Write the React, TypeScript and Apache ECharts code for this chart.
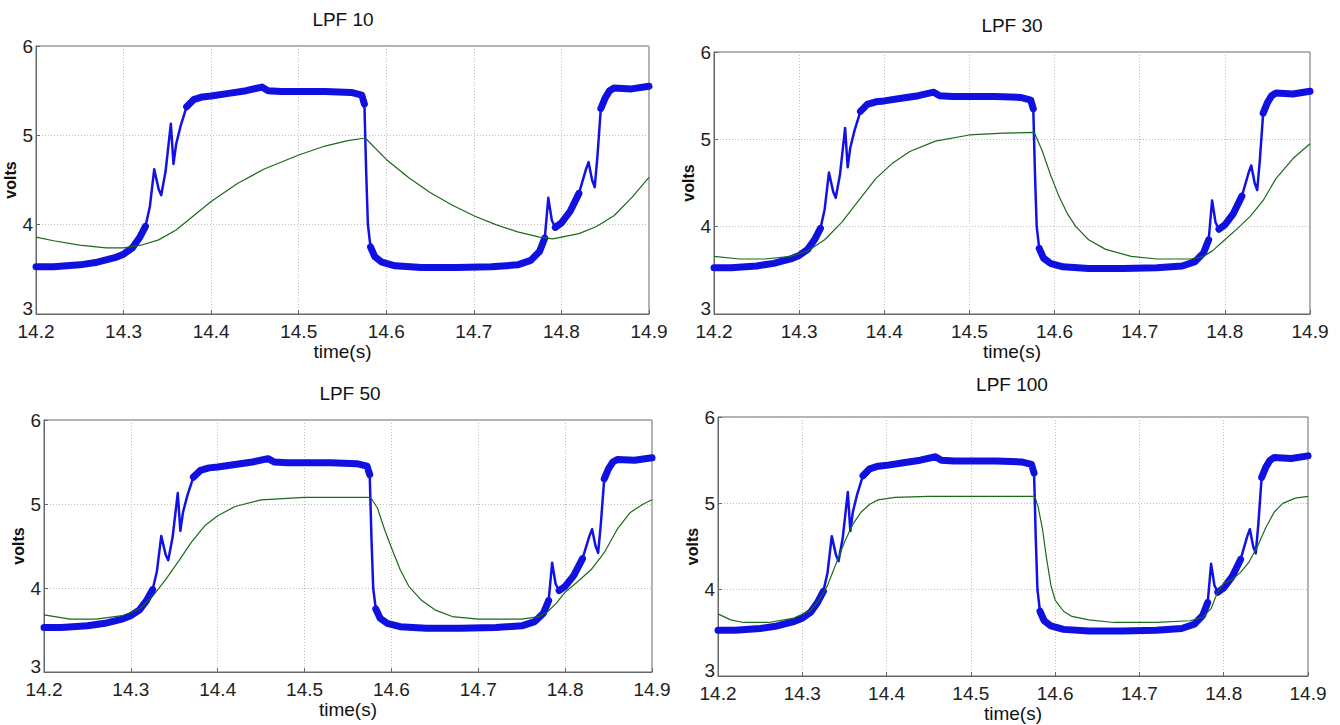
import React, { useEffect, useRef } from "react";
import * as echarts from "echarts";

// ---- Data ----
const xTicks = [14.2, 14.3, 14.4, 14.5, 14.6, 14.7, 14.8, 14.9];
const yTicks = [3, 4, 5, 6];
const titles = ["LPF 10", "LPF 30", "LPF 50", "LPF 100"];

// measured (unfiltered) voltage, blue
const blueT = [14.2, 14.22, 14.25, 14.27, 14.29, 14.3, 14.31, 14.318, 14.325, 14.33, 14.335, 14.34, 14.343, 14.348, 14.354, 14.357, 14.36, 14.365, 14.372, 14.38, 14.39, 14.4, 14.42, 14.44, 14.458, 14.465, 14.48, 14.5, 14.53, 14.56, 14.572, 14.575, 14.577, 14.579, 14.582, 14.587, 14.595, 14.61, 14.64, 14.68, 14.72, 14.75, 14.765, 14.775, 14.781, 14.785, 14.789, 14.793, 14.8, 14.81, 14.82, 14.828, 14.831, 14.835, 14.838, 14.841, 14.845, 14.85, 14.855, 14.86, 14.88, 14.9];
const blueV = [3.53, 3.53, 3.55, 3.58, 3.63, 3.67, 3.74, 3.85, 3.98, 4.2, 4.62, 4.4, 4.33, 4.6, 5.13, 4.68, 4.9, 5.1, 5.32, 5.4, 5.43, 5.44, 5.47, 5.5, 5.54, 5.5, 5.49, 5.49, 5.49, 5.48, 5.45, 5.35, 4.6, 4.0, 3.75, 3.64, 3.58, 3.54, 3.52, 3.52, 3.53, 3.55, 3.6, 3.7, 3.85, 4.3, 4.05, 3.97, 4.02, 4.15, 4.35, 4.62, 4.7, 4.5, 4.42, 4.75, 5.3, 5.42, 5.5, 5.53, 5.52, 5.55];
// the noisy (thick) part of the blue trace: same samples, null where the trace is a thin spike/edge
const blueBandV = [3.53, 3.53, 3.55, 3.58, 3.63, 3.67, 3.74, 3.85, 3.98, null, null, null, null, null, null, null, null, null, 5.32, 5.4, 5.43, 5.44, 5.47, 5.5, 5.54, 5.5, 5.49, 5.49, 5.49, 5.48, 5.45, 5.35, null, null, 3.75, 3.64, 3.58, 3.54, 3.52, 3.52, 3.53, 3.55, 3.6, 3.7, 3.85, null, null, 3.97, 4.02, 4.15, 4.35, null, null, null, null, null, 5.3, 5.42, 5.5, 5.53, 5.52, 5.55];

// filtered voltages, green
const g10T = [14.2, 14.22, 14.25, 14.28, 14.3, 14.32, 14.34, 14.36, 14.38, 14.4, 14.43, 14.46, 14.5, 14.53, 14.556, 14.576, 14.6, 14.625, 14.65, 14.675, 14.7, 14.725, 14.75, 14.775, 14.79, 14.8, 14.82, 14.84, 14.86, 14.88, 14.9];
const g10V = [3.86, 3.82, 3.77, 3.74, 3.74, 3.77, 3.83, 3.94, 4.1, 4.26, 4.46, 4.62, 4.78, 4.88, 4.94, 4.97, 4.73, 4.53, 4.36, 4.22, 4.1, 4.0, 3.92, 3.86, 3.84, 3.86, 3.9, 3.98, 4.1, 4.3, 4.53];

const g30T = [14.2, 14.23, 14.26, 14.29, 14.31, 14.33, 14.35, 14.37, 14.39, 14.41, 14.43, 14.46, 14.5, 14.54, 14.576, 14.585, 14.595, 14.605, 14.615, 14.625, 14.64, 14.66, 14.69, 14.72, 14.76, 14.775, 14.785, 14.8, 14.815, 14.83, 14.845, 14.86, 14.88, 14.9];
const g30V = [3.66, 3.63, 3.63, 3.66, 3.72, 3.85, 4.05, 4.3, 4.55, 4.73, 4.86, 4.98, 5.05, 5.07, 5.08, 4.88, 4.6, 4.35, 4.15, 4.0, 3.85, 3.74, 3.66, 3.63, 3.63, 3.66, 3.72, 3.85, 3.98, 4.12, 4.3, 4.55, 4.78, 4.95];

const g50T = [14.2, 14.23, 14.26, 14.29, 14.31, 14.325, 14.34, 14.355, 14.37, 14.385, 14.4, 14.42, 14.45, 14.5, 14.576, 14.584, 14.592, 14.6, 14.61, 14.62, 14.635, 14.65, 14.67, 14.7, 14.75, 14.77, 14.78, 14.79, 14.8, 14.815, 14.83, 14.845, 14.86, 14.875, 14.89, 14.9];
const g50V = [3.68, 3.63, 3.63, 3.67, 3.75, 3.9, 4.1, 4.32, 4.55, 4.74, 4.86, 4.97, 5.05, 5.08, 5.08, 4.95, 4.7, 4.48, 4.22, 4.02, 3.85, 3.74, 3.66, 3.63, 3.63, 3.66, 3.72, 3.82, 3.95, 4.08, 4.22, 4.42, 4.7, 4.9, 5.0, 5.05];

const g100T = [14.2, 14.215, 14.23, 14.26, 14.29, 14.31, 14.32, 14.33, 14.34, 14.35, 14.36, 14.37, 14.38, 14.39, 14.41, 14.45, 14.576, 14.58, 14.585, 14.59, 14.595, 14.6, 14.61, 14.62, 14.64, 14.67, 14.72, 14.76, 14.775, 14.785, 14.793, 14.8, 14.81, 14.82, 14.83, 14.84, 14.85, 14.86, 14.87, 14.885, 14.9];
const g100V = [3.72, 3.65, 3.62, 3.62, 3.67, 3.76, 3.88, 4.05, 4.3, 4.55, 4.76, 4.9, 4.99, 5.04, 5.07, 5.08, 5.08, 4.95, 4.7, 4.35, 4.05, 3.88, 3.75, 3.69, 3.65, 3.62, 3.62, 3.64, 3.68, 3.78, 3.98, 4.07, 4.12, 4.2, 4.32, 4.5, 4.72, 4.9, 5.0, 5.06, 5.08];

const greenSets = [
  [g10T, g10V],
  [g30T, g30V],
  [g50T, g50V],
  [g100T, g100V],
];

const FONT = '"Liberation Sans", Arial, sans-serif';

const grids = [
  { left: 36, top: 46, width: 613, height: 268 },
  { left: 714, top: 52, width: 596, height: 262 },
  { left: 44, top: 420, width: 608, height: 252 },
  { left: 718, top: 417, width: 590, height: 259 },
];
const titleCenters = [
  { x: 343, y: 20 },
  { x: 1012, y: 26 },
  { x: 350, y: 394 },
  { x: 1012, y: 385 },
];

const pairs = (t: number[], v: (number | null)[]) => t.map((x, i) => [x, v[i]]);

export default function App() {
  const ref = useRef<HTMLDivElement>(null);
  useEffect(() => {
    if (!ref.current) return;
    const chart = echarts.init(ref.current, undefined, { renderer: "svg" });
    const blueData = pairs(blueT, blueV);
    const bandData = pairs(blueT, blueBandV);
    const option: any = {
      animation: false,
      backgroundColor: "#ffffff",
      title: titles.map((t, i) => ({
        text: t,
        left: titleCenters[i].x,
        top: titleCenters[i].y - 10,
        padding: 0,
        textAlign: "center",
        textStyle: { fontFamily: FONT, fontSize: 19, fontWeight: "normal", color: "#111" },
      })),
      grid: grids.map((g) => ({
        ...g,
        show: true,
        borderColor: "#666",
        borderWidth: 1,
        backgroundColor: "#fff",
        containLabel: false,
      })),
      xAxis: grids.map((_, i) => ({
        type: "value",
        gridIndex: i,
        min: xTicks[0],
        max: xTicks[xTicks.length - 1],
        interval: 0.1,
        name: "time(s)",
        nameLocation: "middle",
        nameGap: 28,
        nameTextStyle: { fontFamily: FONT, fontSize: 19, color: "#111" },
        axisLine: { show: true, lineStyle: { color: "#666" } },
        axisTick: { show: true, inside: true, length: 4, lineStyle: { color: "#666" } },
        axisLabel: {
          fontFamily: FONT,
          fontSize: 19,
          color: "#222",
          margin: 8,
          formatter: (v: number) => v.toFixed(1),
        },
        splitLine: { show: true, lineStyle: { color: "#bdbdbd", type: [1, 2], width: 1 } },
      })),
      yAxis: grids.map((_, i) => ({
        type: "value",
        gridIndex: i,
        min: yTicks[0],
        max: yTicks[yTicks.length - 1],
        interval: 1,
        name: "volts",
        nameLocation: "middle",
        nameRotate: 90,
        nameGap: 11,
        nameTextStyle: { fontFamily: FONT, fontSize: 16, fontWeight: "bold", color: "#111" },
        axisLine: { show: true, lineStyle: { color: "#666" } },
        axisTick: { show: true, inside: true, length: 4, lineStyle: { color: "#666" } },
        axisLabel: {
          fontFamily: FONT,
          fontSize: 19,
          color: "#222",
          margin: 3,
          formatter: (v: number) => (v === yTicks[0] ? "{low|" + v + "}" : String(v)),
          rich: {
            low: { fontFamily: FONT, fontSize: 19, color: "#222", padding: [0, 0, 12, 0] },
          },
        },
        splitLine: { show: true, lineStyle: { color: "#bdbdbd", type: [1, 2], width: 1 } },
      })),
      series: [
        ...grids.map((_, i) => ({
          type: "line",
          name: "measured",
          xAxisIndex: i,
          yAxisIndex: i,
          data: blueData,
          showSymbol: false,
          symbol: "none",
          lineStyle: { color: "#1212e8", width: 2.5, join: "round" },
          z: 2,
        })),
        ...grids.map((_, i) => ({
          type: "line",
          name: "measured (noise band)",
          xAxisIndex: i,
          yAxisIndex: i,
          data: bandData,
          connectNulls: false,
          showSymbol: false,
          symbol: "none",
          lineStyle: { color: "#1010e0", width: 7, join: "round", cap: "round" },
          z: 2,
        })),
        ...greenSets.map(([t, v], i) => ({
          type: "line",
          name: titles[i],
          xAxisIndex: i,
          yAxisIndex: i,
          data: pairs(t, v),
          smooth: false,
          showSymbol: false,
          symbol: "none",
          lineStyle: { color: "#1a6a1a", width: 1.2 },
          z: 3,
        })),
      ],
    };
    chart.setOption(option);
    return () => chart.dispose();
  }, []);
  return (
    <div
      ref={ref}
      style={{ position: "absolute", left: 0, top: 0, width: 1340, height: 725, background: "#fff" }}
    />
  );
}
